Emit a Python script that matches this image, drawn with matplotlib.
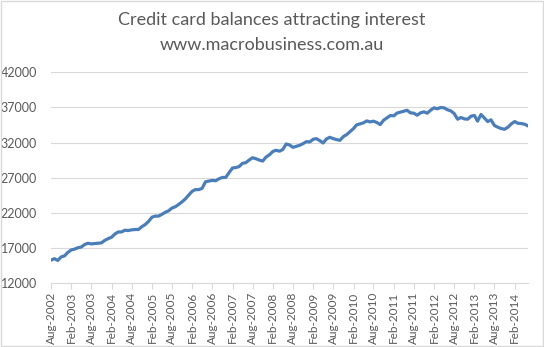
import matplotlib
matplotlib.use("Agg")
import matplotlib.pyplot as plt
import pandas as pd

# monthly balances, Aug-2002 .. Jun-2014 ($m)
balances = [
    15300, 15500, 15250, 15750, 15900, 16400, 16750, 16850, 17050, 17150,
    17500, 17700, 17600, 17650, 17700, 17750, 18100, 18350, 18550, 19000,
    19300, 19300, 19550, 19500, 19600, 19650, 19650, 20050, 20350, 20800,
    21400, 21550, 21550, 21800, 22100, 22300, 22700, 22890, 23220, 23590,
    24010, 24570, 25090, 25320, 25320, 25500, 26440, 26530, 26630, 26580,
    26860, 27050, 27050, 27750, 28400, 28450, 28590, 29050, 29150, 29520,
    29850, 29710, 29520, 29380, 29940, 30270, 30740, 30920, 30780, 31020,
    31810, 31670, 31330, 31480, 31620, 31860, 32140, 32100, 32480, 32570,
    32290, 31950, 32520, 32760, 32570, 32430, 32330, 32860, 33140, 33570,
    34000, 34520, 34670, 34810, 35090, 34950, 35050, 34860, 34570, 35190,
    35520, 35860, 35810, 36190, 36330, 36470, 36600, 36240, 36190, 35900,
    36240, 36380, 36190, 36620, 36950, 36810, 37000, 36950, 36670, 36520,
    36140, 35330, 35570, 35380, 35330, 35760, 35860, 35050, 36000, 35520,
    35000, 35240, 34430, 34190, 34000, 33900, 34190, 34670, 35000, 34760,
    34710, 34620, 34380,
]
dates = pd.date_range("2002-08-01", periods=len(balances), freq="MS")
tick_dates = dates[::6]
tick_labels = [d.strftime("%b-%Y") for d in tick_dates]
y_ticks = [12000, 17000, 22000, 27000, 32000, 37000, 42000]

plt.rcParams['font.family'] = ['Lato', 'DejaVu Sans']

fig = plt.figure(figsize=(5.44, 3.47), dpi=100)
ax = fig.add_axes([51/544, 1 - 283.3/347, (528 - 51)/544, (283.3 - 72.3)/347])

ax.plot(dates, balances, color="#4a7ebb", lw=2.3, solid_joinstyle="round")

ax.set_xlim(dates[0], dates[-1])
ax.set_ylim(12000, 42000)
ax.set_yticks(y_ticks)
ax.set_xticks(tick_dates)
ax.set_xticklabels(tick_labels, rotation=90)
ax.grid(axis="y", color="#d9d9d9", lw=0.8)
ax.set_axisbelow(True)

for s in ["top", "right", "left"]:
    ax.spines[s].set_visible(False)
ax.spines["bottom"].set_color("#d9d9d9")
ax.tick_params(axis="y", length=0, pad=10, labelsize=9, labelcolor="#595959")
ax.tick_params(axis="x", length=4, color="#d9d9d9", pad=2, labelsize=8.5,
               labelcolor="#595959")

fig.text(0.5, 1 - 20/347, "Credit card balances attracting interest",
         ha="center", va="center", fontsize=13, color="#595959")
fig.text(0.5, 1 - 45/347, "www.macrobusiness.com.au",
         ha="center", va="center", fontsize=13, color="#595959")

# chart border
fig.patches.append(plt.Rectangle((0.001, 0.002), 0.997, 0.996, fill=False,
                                 edgecolor="#d9d9d9", lw=1,
                                 transform=fig.transFigure))

fig.savefig("out.png", dpi=100)
